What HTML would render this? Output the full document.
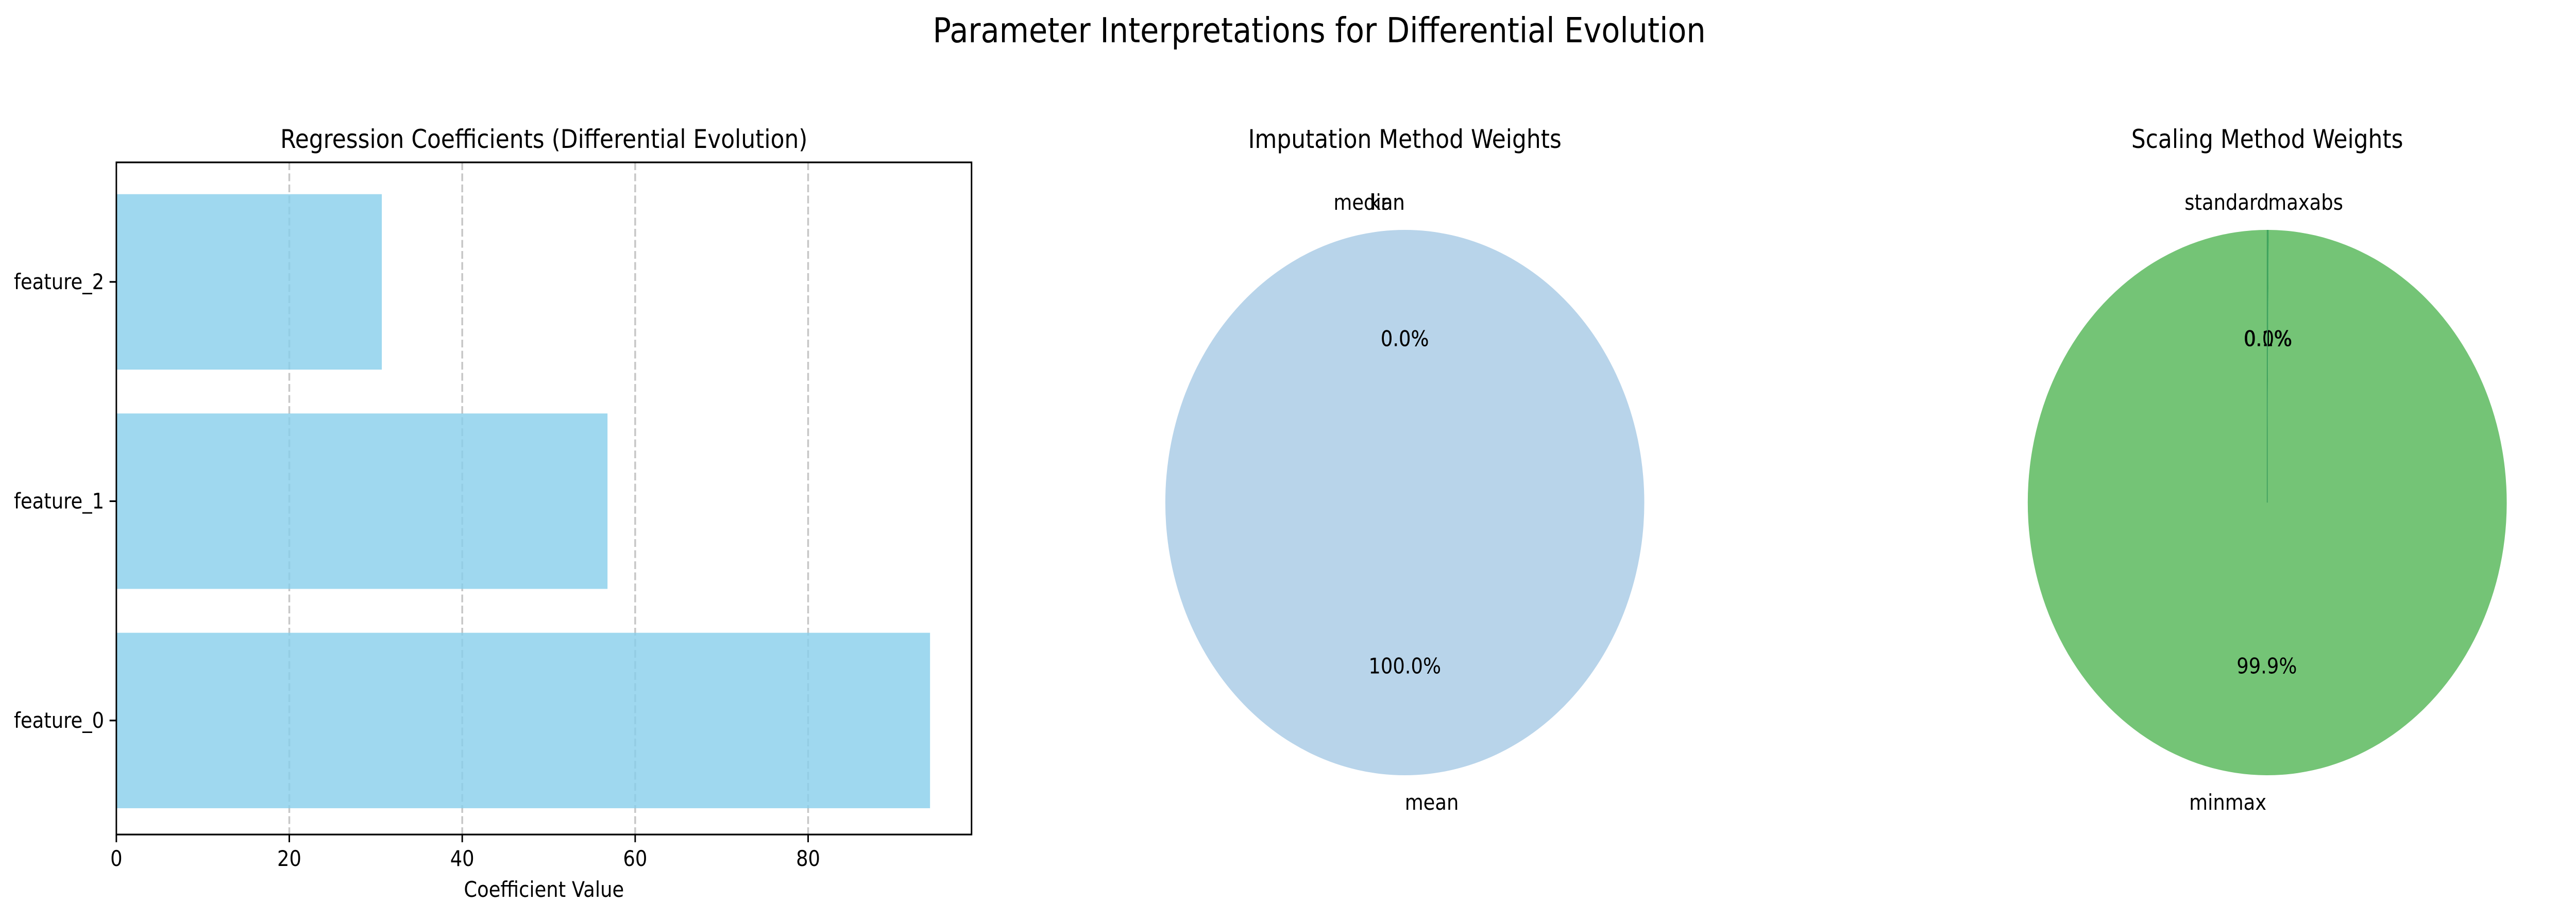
<!DOCTYPE html>
<html><head><meta charset="utf-8"><style>
html,body{margin:0;padding:0;background:#fff;overflow:hidden}
svg{display:block;width:100vw;height:100vh;font-family:"DejaVu Sans","Liberation Sans",sans-serif}
</style></head><body>
<svg id="fig" viewBox="0 0 5690 1779" preserveAspectRatio="none" xmlns="http://www.w3.org/2000/svg">
<rect width="5690" height="1779" fill="#fff"/>
<text x="2914" y="82" font-size="67" text-anchor="middle">Parameter Interpretations for Differential Evolution</text>
<g id="bar"></g>
<g id="pie1"></g>
<g id="pie2"></g>
</svg>
<script>
const features = ['feature_0','feature_1','feature_2'];
const coefValues = [94.1, 56.8, 30.7];
const xTicks = [0,20,40,60,80];
const imputeLabels = ['mean','median','knn'];
const imputeWeights = [1.0, 0.0, 0.0];
const scaleLabels = ['minmax','standard','maxabs'];
const scaleWeights = [0.999, 0.0, 0.001];
const imputeAnchors = ['start','end','end'];
const scaleAnchors = ['end','end','start'];

const NS='http://www.w3.org/2000/svg';
function mk(tag,attrs,parent){const e=document.createElementNS(NS,tag);for(const k in attrs)e.setAttribute(k,attrs[k]);parent.appendChild(e);return e;}

const L=257,R=2146,T=315,B=1619;
const xMin=0,xMax=98.9,yMin=-0.52,yMax=2.545;
const xs=v=>L+(v-xMin)/(xMax-xMin)*(R-L);
const ys=v=>B-(v-yMin)/(yMax-yMin)*(B-T);
const bg=document.getElementById('bar');
let t=mk('text',{x:(L+R)/2,y:287,'font-size':50,'text-anchor':'middle'},bg);
t.textContent='Regression Coefficients (Differential Evolution)';


xTicks.forEach(v=>{
  if(v>0){const g=mk('line',{x1:xs(v),x2:xs(v),y1:T,y2:B,stroke:'#b0b0b0','stroke-width':4,'stroke-dasharray':'15,6.5','opacity':0.7},bg);
  
  }
});
features.forEach((f,i)=>{
  const r=mk('rect',{x:xs(0),y:ys(i+0.4),width:xs(coefValues[i])-xs(0),height:ys(i-0.4)-ys(i+0.4),fill:'#87ceeb','fill-opacity':0.8},bg);
  
  
  mk('line',{x1:L,x2:L-15,y1:ys(i),y2:ys(i),stroke:'#000','stroke-width':3.3},bg);
  const lb=mk('text',{x:L-27,y:ys(i)+14,'font-size':42,'text-anchor':'end'},bg);
  lb.textContent=f;
  
  
});
const fr=mk('rect',{x:L,y:T,width:R-L,height:B-T,fill:'none',stroke:'#000','stroke-width':3.3},bg);


xTicks.forEach(v=>{
  mk('line',{x1:xs(v),x2:xs(v),y1:B,y2:B+15,stroke:'#000','stroke-width':3.3},bg);
  const lb=mk('text',{x:xs(v),y:1680,'font-size':42,'text-anchor':'middle'},bg);
  lb.textContent=v;
  
  
});
t=mk('text',{x:(L+R)/2,y:1740,'font-size':42,'text-anchor':'middle'},bg);
t.textContent='Coefficient Value';



function pie(gid,cx,cy,r,title,labels,weights,anchors,colors,edge){
  const g=document.getElementById(gid);
  const tt=mk('text',{x:cx,y:287,'font-size':50,'text-anchor':'middle'},g);
  tt.textContent=title;
  
  
  const tot=weights.reduce((a,b)=>a+b,0);
  let ang=90;
  weights.forEach((w,i)=>{
    const sweep=w/tot*360;
    const a0=ang*Math.PI/180,a1=(ang+sweep)*Math.PI/180;
    let el;
    if(sweep>=359.999){
      el=mk('circle',{cx:cx,cy:cy,r:r,fill:colors[i]},g);
    }else{
      const x0=cx+r*Math.cos(a0),y0=cy-r*Math.sin(a0),x1=cx+r*Math.cos(a1),y1=cy-r*Math.sin(a1);
      el=mk('path',{d:`M${cx},${cy} L${x0},${y0} A${r},${r} 0 ${sweep>180?1:0} 0 ${x1},${y1} Z`,fill:colors[i]},g);
    }
    
    
    const mid=(ang+sweep/2)*Math.PI/180;
    const lx=cx+1.1*r*Math.cos(mid),ly=cy-1.1*r*Math.sin(mid);
    const lt=mk('text',{x:lx,y:ly+14,'font-size':42,'text-anchor':anchors[i]},g);
    lt.textContent=labels[i];
    
    
    const px=cx+0.6*r*Math.cos(mid),py=cy-0.6*r*Math.sin(mid);
    const pt=mk('text',{x:px,y:py+14,'font-size':42,'text-anchor':'middle'},g);
    pt.textContent=(w/tot*100).toFixed(1)+'%';
    
    
    ang+=sweep;
  });
  if(edge){const ln=mk('line',{x1:cx,y1:cy,x2:cx,y2:cy-r,stroke:edge,'stroke-width':2},g);
    
    }
}
pie('pie1',3103,975,529,'Imputation Method Weights',imputeLabels,imputeWeights,imputeAnchors,['#b8d4ea','#b8d4ea','#b8d4ea'],null);
pie('pie2',5008,975,529,'Scaling Method Weights',scaleLabels,scaleWeights,scaleAnchors,['#74c476','#74c476','#41ab5d'],'#41a060');
</script>
</body></html>
